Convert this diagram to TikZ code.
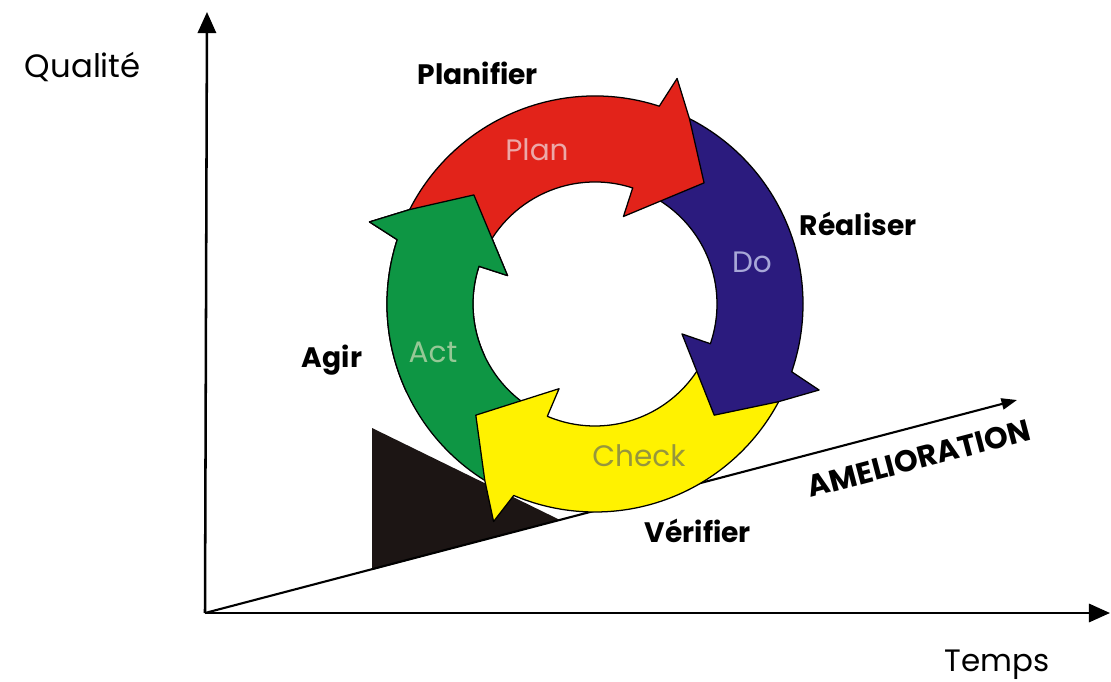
\documentclass[tikz,border=0pt]{standalone}
\usepackage{fontspec}
\setmainfont{Poppins}
\usetikzlibrary{arrows.meta}
\definecolor{plancol}{HTML}{E2231A}
\definecolor{docol}{HTML}{2B1B7E}
\definecolor{checkcol}{HTML}{FFF200}
\definecolor{actcol}{HTML}{0E9644}
\definecolor{wedgecol}{HTML}{1C1514}
\definecolor{plantxt}{HTML}{ECA8A8}
\definecolor{dotxt}{HTML}{A8A8D8}
\definecolor{acttxt}{HTML}{96C896}
\definecolor{checktxt}{HTML}{96963C}
\newcommand{\Rout}{208}
\newcommand{\Rin}{122}
% one bent arrow of the wheel: #1 tail angle, #2 head angle, #3 colour
\newcommand{\wheelarrow}[3]{%
  \filldraw[fill=#3,draw=black,line width=0.9pt,line join=round]
    (#1:\Rin) -- (#1:\Rout) arc[start angle=#1,end angle=#2+2,radius=\Rout]
    -- (#2:240) -- ({#2-7}:\Rout) -- ({#2-22}:163) -- ({#2+2}:92) -- ({#2+2}:\Rin)
    arc[start angle=#2+2,end angle=#1,radius=\Rin] -- cycle;}

\begin{document}
\begin{tikzpicture}[x=0.025cm,y=-0.025cm,
  axis/.style={line width=1.8pt,-{Triangle[length=15pt,width=13pt]}},
  phase/.style={font=\fontsize{20}{24}\selectfont\bfseries,anchor=base west},
  word/.style={font=\fontsize{21}{25}\selectfont,text=#1},
  dim/.style={font=\fontsize{23}{27}\selectfont,anchor=base west}]
\useasboundingbox (0,0) rectangle (1111,682);
\coordinate (O) at (205,613);
\coordinate (ytop) at (207,12);
\coordinate (xend) at (1110,613);
\coordinate (amel) at (1017,400);
% wedge under the wheel
\fill[wedgecol] (372,428) -- (372,570) -- (560,520) -- cycle;
\draw[axis] (O) -- (ytop);
\draw[axis] (O) -- (xend);
\draw[line width=1.5pt,-{Triangle[length=11pt,width=8pt]}] (O) -- (amel);

% the wheel
\begin{scope}[shift={(595,304)},yscale=-1]
\wheelarrow{247}{160}{actcol}
\wheelarrow{-19}{-115}{checkcol}
\wheelarrow{72}{-21}{docol}
\wheelarrow{162}{70}{plancol}
\begin{scope}
\clip (0,0) -- (120:300) arc[start angle=120,end angle=205,radius=300] -- cycle;
\wheelarrow{247}{160}{actcol}
\end{scope}
\end{scope}

\node[word=plantxt] (plan) at (537,150) {Plan};
\node[word=dotxt] (do) at (752,262) {Do};
\node[word=acttxt] (act) at (433,352) {Act};
\node[word=checktxt] (check) at (639,456) {Check};

\node[phase] (planifier) at (413,85) {Planifier};
\node[phase] (realiser) at (795,236) {Réaliser};
\node[phase] (agir) at (297,367) {Agir};
\node[phase] (verifier) at (640,542) {Vérifier};
\node[phase,font=\fontsize{21.5}{25}\selectfont\bfseries,rotate=14.7] (amelio) at (806,499) {AMELIORATION};

\node[dim] (qualite) at (20,78) {Qualité};
\node[dim,font=\fontsize{22}{26}\selectfont] (temps) at (940,671) {Temps};
\end{tikzpicture}
\end{document}
